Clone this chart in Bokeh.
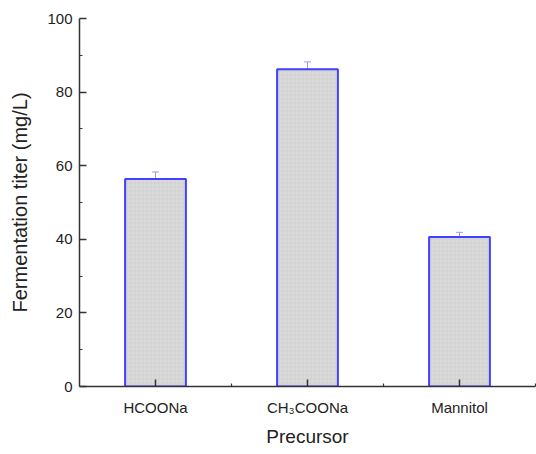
from bokeh.plotting import figure
from bokeh.models import ColumnDataSource, FixedTicker, Whisker, TeeHead, Range1d
from bokeh.embed import file_html
from bokeh.resources import INLINE

categories = ["HCOONa", "CH\u2083COONa", "Mannitol"]
titer = [56.4, 86.2, 40.6]
errors = [1.9, 2.0, 1.3]
y_ticks = [0, 20, 40, 60, 80, 100]
y_minor = [10, 30, 50, 70, 90]

xs = [i + 1 for i in range(len(categories))]
src = ColumnDataSource(dict(
    x=xs, top=titer,
    upper=[t + e for t, e in zip(titer, errors)],
    lower=[t - e for t, e in zip(titer, errors)],
))

FONT = "Liberation Sans"
TXT = "#222222"

p = figure(width=536, height=454, output_backend="svg", toolbar_location=None,
           x_range=Range1d(0.5, len(categories) + 0.5), y_range=Range1d(0, 100),
           min_border_left=79, min_border_top=18, min_border_right=1, min_border_bottom=68)
p.outline_line_color = None
p.xgrid.visible = False
p.ygrid.visible = False

p.vbar(x="x", top="top", width=0.4, bottom=0, source=src,
       fill_color="#dadada", line_color="#4040ff", line_width=2,
       hatch_pattern="+", hatch_color="#cdcdcd", hatch_scale=4, hatch_weight=0.5)

w = Whisker(base="x", upper="upper", lower="lower", source=src,
            line_color="#9a9af0", line_width=1,
            upper_head=TeeHead(size=7, line_color="#9a9af0", line_width=1),
            lower_head=TeeHead(size=7, line_color="#9a9af0", line_width=1))
p.add_layout(w)

for ax in (p.xaxis[0], p.yaxis[0]):
    ax.axis_line_color = "#333333"
    ax.axis_line_width = 1.5
    ax.major_tick_line_color = "#333333"
    ax.minor_tick_line_color = "#333333"
    ax.major_tick_line_width = 1.5
    ax.minor_tick_line_width = 1.2
    ax.major_tick_in = 7
    ax.major_tick_out = 0
    ax.minor_tick_in = 3
    ax.minor_tick_out = 0
    ax.major_label_text_font = FONT
    ax.major_label_text_font_size = "15px"
    ax.major_label_text_color = TXT
    ax.axis_label_text_font = FONT
    ax.axis_label_text_font_style = "normal"
    ax.axis_label_text_color = TXT

p.yaxis.ticker = FixedTicker(ticks=y_ticks, minor_ticks=y_minor)
p.yaxis.axis_label = "Fermentation titer (mg/L)"
p.yaxis.axis_label_text_font_size = "20px"
p.yaxis.major_label_standoff = 7
p.yaxis.axis_label_standoff = 13

p.xaxis.ticker = FixedTicker(ticks=xs, minor_ticks=[x + 0.5 for x in xs])
p.xaxis.major_label_overrides = {float(x): c for x, c in zip(xs, categories)}
p.xaxis.axis_label = "Precursor"
p.xaxis.axis_label_text_font_size = "19px"
p.xaxis.major_label_standoff = 12
p.xaxis.axis_label_standoff = 7

open("out.html", "w").write(file_html(p, INLINE))
